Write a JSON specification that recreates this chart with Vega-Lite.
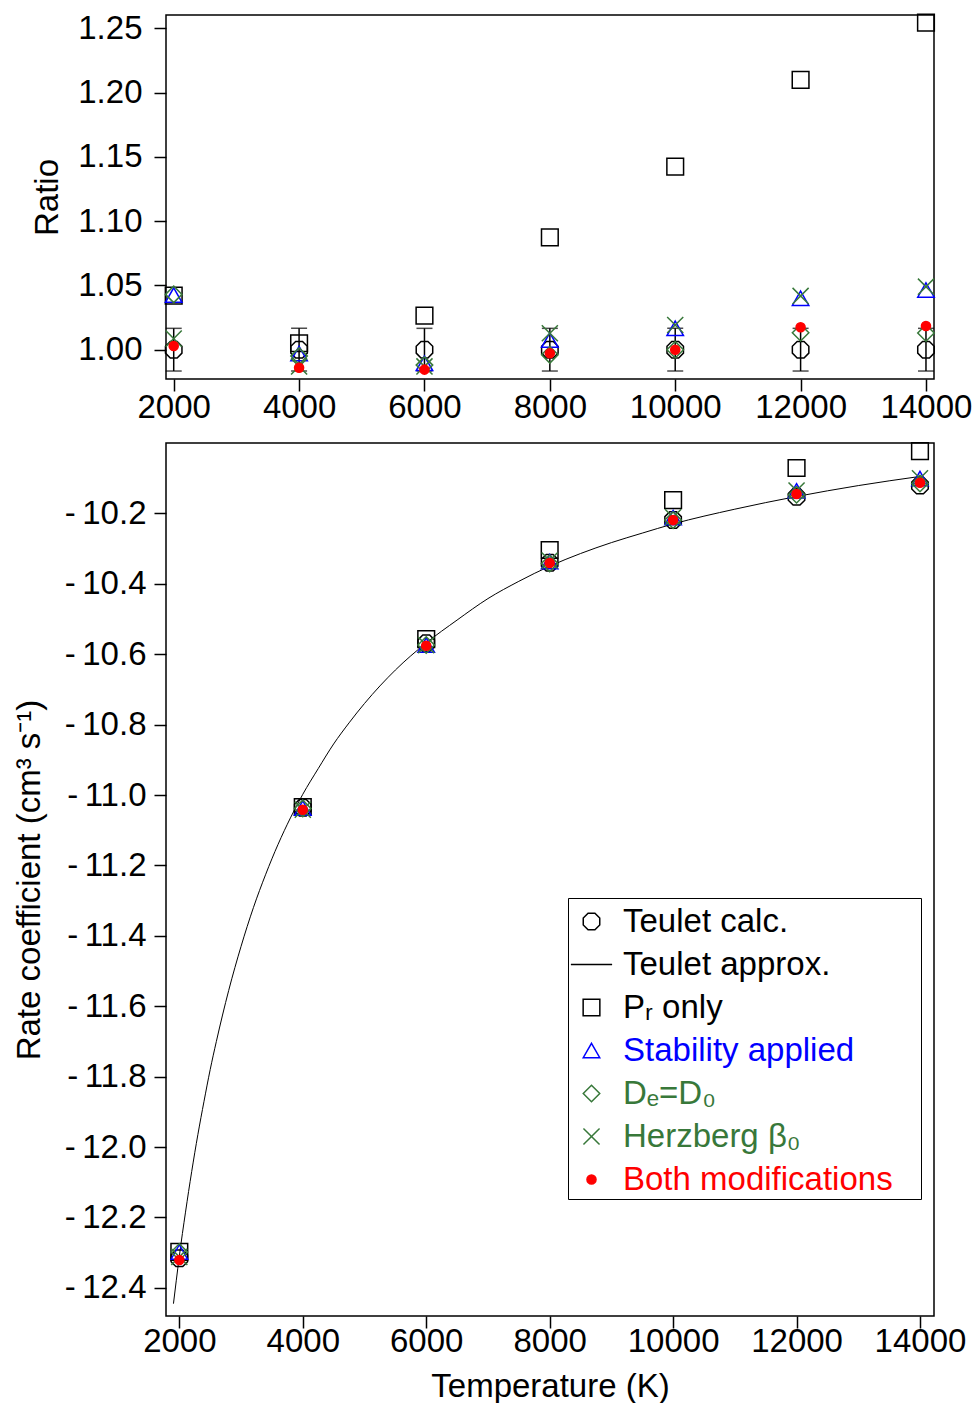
{
  "$schema": "https://vega.github.io/schema/vega-lite/v6.json",
  "background": "white",
  "padding": {"left": 12, "top": 10, "right": 5, "bottom": 3},
  "spacing": 13,
  "config": {
    "font": "Liberation Sans",
    "view": {"stroke": "black", "strokeWidth": 1.5},
    "axis": {
      "grid": false, "domain": false, "tickColor": "black", "tickWidth": 1.5, "tickSize": 12,
      "labelFontSize": 33, "labelColor": "black", "titleFontSize": 33, "titleFontWeight": "normal",
      "titleColor": "black", "labelFont": "Liberation Sans", "titleFont": "Liberation Sans",
      "labelFlush": false, "labelOverlap": false
    }
  },
  "datasets": {
    "ratio": [
      {"T": 2000, "series": "Teulet calc.", "ratio": 1.0}, {"T": 4000, "series": "Teulet calc.", "ratio": 1.0}, {"T": 6000, "series": "Teulet calc.", "ratio": 1.0}, {"T": 8000, "series": "Teulet calc.", "ratio": 1.0}, {"T": 10000, "series": "Teulet calc.", "ratio": 1.0}, {"T": 12000, "series": "Teulet calc.", "ratio": 1.0}, {"T": 14000, "series": "Teulet calc.", "ratio": 1.0},
      {"T": 2000, "series": "Pᵣ only", "ratio": 1.042}, {"T": 4000, "series": "Pᵣ only", "ratio": 1.005}, {"T": 6000, "series": "Pᵣ only", "ratio": 1.0265}, {"T": 8000, "series": "Pᵣ only", "ratio": 1.0874}, {"T": 10000, "series": "Pᵣ only", "ratio": 1.1424}, {"T": 12000, "series": "Pᵣ only", "ratio": 1.2098}, {"T": 14000, "series": "Pᵣ only", "ratio": 1.2544},
      {"T": 2000, "series": "Stability applied", "ratio": 1.0425}, {"T": 4000, "series": "Stability applied", "ratio": 0.997}, {"T": 6000, "series": "Stability applied", "ratio": 0.9894}, {"T": 8000, "series": "Stability applied", "ratio": 1.0075}, {"T": 10000, "series": "Stability applied", "ratio": 1.0166}, {"T": 12000, "series": "Stability applied", "ratio": 1.04}, {"T": 14000, "series": "Stability applied", "ratio": 1.0464},
      {"T": 2000, "series": "Dₑ=D₀", "ratio": 1.043}, {"T": 4000, "series": "Dₑ=D₀", "ratio": 0.995}, {"T": 6000, "series": "Dₑ=D₀", "ratio": 0.988}, {"T": 8000, "series": "Dₑ=D₀", "ratio": 0.996}, {"T": 10000, "series": "Dₑ=D₀", "ratio": 1.0}, {"T": 12000, "series": "Dₑ=D₀", "ratio": 1.0132}, {"T": 14000, "series": "Dₑ=D₀", "ratio": 1.013},
      {"T": 2000, "series": "Herzberg β₀", "ratio": 1.0086}, {"T": 4000, "series": "Herzberg β₀", "ratio": 0.987}, {"T": 6000, "series": "Herzberg β₀", "ratio": 0.987}, {"T": 8000, "series": "Herzberg β₀", "ratio": 1.0128}, {"T": 10000, "series": "Herzberg β₀", "ratio": 1.0192}, {"T": 12000, "series": "Herzberg β₀", "ratio": 1.0418}, {"T": 14000, "series": "Herzberg β₀", "ratio": 1.049},
      {"T": 2000, "series": "Both modifications", "ratio": 1.0029}, {"T": 4000, "series": "Both modifications", "ratio": 0.986}, {"T": 6000, "series": "Both modifications", "ratio": 0.9845}, {"T": 8000, "series": "Both modifications", "ratio": 0.9972}, {"T": 10000, "series": "Both modifications", "ratio": 1.0}, {"T": 12000, "series": "Both modifications", "ratio": 1.0174}, {"T": 14000, "series": "Both modifications", "ratio": 1.0184}
    ],
    "err": [
      {"T": 2000, "lo": 0.9834, "hi": 1.0166}, {"T": 4000, "lo": 0.9834, "hi": 1.0166}, {"T": 6000, "lo": 0.9834, "hi": 1.0166}, {"T": 8000, "lo": 0.9834, "hi": 1.0166}, {"T": 10000, "lo": 0.9834, "hi": 1.0166}, {"T": 12000, "lo": 0.9834, "hi": 1.0166}, {"T": 14000, "lo": 0.9834, "hi": 1.0166}
    ],
    "rate": [
      {"T": 2000, "series": "Teulet calc.", "rate": -12.316}, {"T": 4000, "series": "Teulet calc.", "rate": -11.036}, {"T": 6000, "series": "Teulet calc.", "rate": -10.569}, {"T": 8000, "series": "Teulet calc.", "rate": -10.34}, {"T": 10000, "series": "Teulet calc.", "rate": -10.219}, {"T": 12000, "series": "Teulet calc.", "rate": -10.153}, {"T": 14000, "series": "Teulet calc.", "rate": -10.121},
      {"T": 2000, "series": "Pᵣ only", "rate": -12.298}, {"T": 4000, "series": "Pᵣ only", "rate": -11.034}, {"T": 6000, "series": "Pᵣ only", "rate": -10.557}, {"T": 8000, "series": "Pᵣ only", "rate": -10.304}, {"T": 10000, "series": "Pᵣ only", "rate": -10.162}, {"T": 12000, "series": "Pᵣ only", "rate": -10.071}, {"T": 14000, "series": "Pᵣ only", "rate": -10.023},
      {"T": 2000, "series": "Stability applied", "rate": -12.298}, {"T": 4000, "series": "Stability applied", "rate": -11.037}, {"T": 6000, "series": "Stability applied", "rate": -10.574}, {"T": 8000, "series": "Stability applied", "rate": -10.337}, {"T": 10000, "series": "Stability applied", "rate": -10.212}, {"T": 12000, "series": "Stability applied", "rate": -10.136}, {"T": 14000, "series": "Stability applied", "rate": -10.101},
      {"T": 2000, "series": "Dₑ=D₀", "rate": -12.298}, {"T": 4000, "series": "Dₑ=D₀", "rate": -11.038}, {"T": 6000, "series": "Dₑ=D₀", "rate": -10.574}, {"T": 8000, "series": "Dₑ=D₀", "rate": -10.342}, {"T": 10000, "series": "Dₑ=D₀", "rate": -10.219}, {"T": 12000, "series": "Dₑ=D₀", "rate": -10.147}, {"T": 14000, "series": "Dₑ=D₀", "rate": -10.115},
      {"T": 2000, "series": "Herzberg β₀", "rate": -12.312}, {"T": 4000, "series": "Herzberg β₀", "rate": -11.042}, {"T": 6000, "series": "Herzberg β₀", "rate": -10.574}, {"T": 8000, "series": "Herzberg β₀", "rate": -10.334}, {"T": 10000, "series": "Herzberg β₀", "rate": -10.211}, {"T": 12000, "series": "Herzberg β₀", "rate": -10.135}, {"T": 14000, "series": "Herzberg β₀", "rate": -10.1},
      {"T": 2000, "series": "Both modifications", "rate": -12.321}, {"T": 4000, "series": "Both modifications", "rate": -11.042}, {"T": 6000, "series": "Both modifications", "rate": -10.576}, {"T": 8000, "series": "Both modifications", "rate": -10.341}, {"T": 10000, "series": "Both modifications", "rate": -10.219}, {"T": 12000, "series": "Both modifications", "rate": -10.145}, {"T": 14000, "series": "Both modifications", "rate": -10.113}
    ],
    "curve": [
      {"T": 1905, "approx": -12.445}, {"T": 1950, "approx": -12.38}, {"T": 2000, "approx": -12.31}, {"T": 2100, "approx": -12.185}, {"T": 2200, "approx": -12.07}, {"T": 2300, "approx": -11.965}, {"T": 2400, "approx": -11.87}, {"T": 2500, "approx": -11.78}, {"T": 2600, "approx": -11.7}, {"T": 2800, "approx": -11.555}, {"T": 3000, "approx": -11.43}, {"T": 3200, "approx": -11.32}, {"T": 3400, "approx": -11.225}, {"T": 3600, "approx": -11.14}, {"T": 3800, "approx": -11.065}, {"T": 4000, "approx": -10.998}, {"T": 4250, "approx": -10.925}, {"T": 4500, "approx": -10.855}, {"T": 4750, "approx": -10.795}, {"T": 5000, "approx": -10.74}, {"T": 5500, "approx": -10.645}, {"T": 6000, "approx": -10.568}, {"T": 6500, "approx": -10.503}, {"T": 7000, "approx": -10.442}, {"T": 7500, "approx": -10.393}, {"T": 8000, "approx": -10.35}, {"T": 8500, "approx": -10.314}, {"T": 9000, "approx": -10.283}, {"T": 9500, "approx": -10.256}, {"T": 10000, "approx": -10.23}, {"T": 11000, "approx": -10.188}, {"T": 12000, "approx": -10.152}, {"T": 13000, "approx": -10.121}, {"T": 14000, "approx": -10.095}
    ]
  },
  "resolve": {"scale": {"shape": "independent", "stroke": "independent", "fill": "independent"}},
  "vconcat": [
    {
      "width": 768,
      "height": 364,
      "layer": [
        {
          "data": {"name": "err"},
          "mark": {"type": "errorbar", "ticks": {"size": 16}, "thickness": 1.5, "color": "black"},
          "encoding": {
            "x": {"field": "T", "type": "quantitative", "scale": {"domain": [1877, 14128], "nice": false, "zero": false},
                  "axis": {"title": null, "values": [2000, 4000, 6000, 8000, 10000, 12000, 14000], "format": "d", "labelPadding": 0}},
            "y": {"field": "lo", "type": "quantitative", "scale": {"domain": [0.9772, 1.2603], "nice": false, "zero": false},
                  "axis": {"title": "Ratio", "values": [1.0, 1.05, 1.1, 1.15, 1.2, 1.25], "format": ".2f", "labelPadding": 12, "titlePadding": 13}},
            "y2": {"field": "hi"}
          }
        },
        {
          "data": {"name": "ratio"},
          "mark": {"type": "point", "size": 1700, "strokeWidth": 1.5, "opacity": 1},
          "encoding": {
            "x": {"field": "T", "type": "quantitative"},
            "y": {"field": "ratio", "type": "quantitative"},
            "shape": {"field": "series", "type": "nominal", "legend": null, "scale": {
              "domain": ["Teulet calc.", "Teulet approx.", "Pᵣ only", "Stability applied", "Dₑ=D₀", "Herzberg β₀", "Both modifications"],
              "range": ["M-0.166,-0.4L0.166,-0.4L0.4,-0.166L0.4,0.166L0.166,0.4L-0.166,0.4L-0.4,0.166L-0.4,-0.166Z", "M-1,0L1,0", "M-0.405,-0.405L0.405,-0.405L0.405,0.405L-0.405,0.405Z", "M0,-0.35L0.4,0.35L-0.4,0.35Z", "M0,-0.4L0.4,0L0,0.4L-0.4,0Z", "M-0.39,-0.39L0.39,0.39M0.39,-0.39L-0.39,0.39", "M0.22,0A0.22,0.22 0 1,1 -0.22,0A0.22,0.22 0 1,1 0.22,0Z"]}},
            "stroke": {"field": "series", "type": "nominal", "legend": null, "scale": {
              "domain": ["Teulet calc.", "Teulet approx.", "Pᵣ only", "Stability applied", "Dₑ=D₀", "Herzberg β₀", "Both modifications"],
              "range": ["#000000", "#000000", "#000000", "#0000ff", "#38783a", "#38783a", "#ff0000"]}},
            "fill": {"field": "series", "type": "nominal", "legend": null, "scale": {
              "domain": ["Teulet calc.", "Teulet approx.", "Pᵣ only", "Stability applied", "Dₑ=D₀", "Herzberg β₀", "Both modifications"],
              "range": ["transparent", "transparent", "transparent", "transparent", "transparent", "transparent", "#ff0000"]}}
          }
        }
      ]
    },
    {
      "width": 768,
      "height": 873,
      "layer": [
        {
          "data": {"name": "curve"},
          "mark": {"type": "line", "color": "black", "strokeWidth": 1, "interpolate": "monotone"},
          "encoding": {
            "x": {"field": "T", "type": "quantitative", "scale": {"domain": [1784, 14227], "nice": false, "zero": false},
                  "axis": {"title": "Temperature (K)", "values": [2000, 4000, 6000, 8000, 10000, 12000, 14000], "format": "d", "labelPadding": -3, "titlePadding": 12}},
            "y": {"field": "approx", "type": "quantitative", "scale": {"domain": [-12.48, -10.0], "nice": false, "zero": false},
                  "axis": {"title": "Rate coefficient (cm³ s⁻¹)", "values": [-12.4, -12.2, -12.0, -11.8, -11.6, -11.4, -11.2, -11.0, -10.8, -10.6, -10.4, -10.2], "labelExpr": "'-\u2009' + format(abs(datum.value), '.1f')", "labelPadding": 8, "titlePadding": 18}}
          }
        },
        {
          "data": {"name": "rate"},
          "mark": {"type": "point", "size": 1700, "strokeWidth": 1.5, "opacity": 1},
          "encoding": {
            "x": {"field": "T", "type": "quantitative"},
            "y": {"field": "rate", "type": "quantitative"},
            "shape": {"field": "series", "type": "nominal",
              "legend": {"title": ".", "titleOrient": "right", "titleColor": "transparent", "titleFontSize": 20, "titlePadding": 20, "orient": "none", "legendX": 402, "legendY": 455, "symbolSize": 1700, "symbolStrokeWidth": 1.5, "labelFontSize": 33, "labelFont": "Liberation Sans", "labelOffset": 10, "rowPadding": 4, "padding": 2, "strokeColor": "black", "fillColor": "white", "labelLimit": 600,
                "labelColor": {"expr": "datum.label == 'Stability applied' ? '#0000ff' : (datum.label == 'Both modifications' ? '#ff0000' : ((datum.label == 'Dₑ=D₀' || datum.label == 'Herzberg β₀') ? '#38783a' : '#000000'))"}},
              "scale": {
              "domain": ["Teulet calc.", "Teulet approx.", "Pᵣ only", "Stability applied", "Dₑ=D₀", "Herzberg β₀", "Both modifications"],
              "range": ["M-0.166,-0.4L0.166,-0.4L0.4,-0.166L0.4,0.166L0.166,0.4L-0.166,0.4L-0.4,0.166L-0.4,-0.166Z", "M-1,0L1,0", "M-0.405,-0.405L0.405,-0.405L0.405,0.405L-0.405,0.405Z", "M0,-0.35L0.4,0.35L-0.4,0.35Z", "M0,-0.4L0.4,0L0,0.4L-0.4,0Z", "M-0.39,-0.39L0.39,0.39M0.39,-0.39L-0.39,0.39", "M0.22,0A0.22,0.22 0 1,1 -0.22,0A0.22,0.22 0 1,1 0.22,0Z"]}},
            "stroke": {"field": "series", "type": "nominal",
              "legend": {"title": ".", "titleOrient": "right", "titleColor": "transparent", "titleFontSize": 20, "titlePadding": 20, "orient": "none", "legendX": 402, "legendY": 455, "symbolSize": 1700, "symbolStrokeWidth": 1.5, "labelFontSize": 33, "labelFont": "Liberation Sans", "labelOffset": 10, "rowPadding": 4, "padding": 2, "strokeColor": "black", "fillColor": "white", "labelLimit": 600,
                "labelColor": {"expr": "datum.label == 'Stability applied' ? '#0000ff' : (datum.label == 'Both modifications' ? '#ff0000' : ((datum.label == 'Dₑ=D₀' || datum.label == 'Herzberg β₀') ? '#38783a' : '#000000'))"}},
              "scale": {
              "domain": ["Teulet calc.", "Teulet approx.", "Pᵣ only", "Stability applied", "Dₑ=D₀", "Herzberg β₀", "Both modifications"],
              "range": ["#000000", "#000000", "#000000", "#0000ff", "#38783a", "#38783a", "#ff0000"]}},
            "fill": {"field": "series", "type": "nominal",
              "legend": {"title": ".", "titleOrient": "right", "titleColor": "transparent", "titleFontSize": 20, "titlePadding": 20, "orient": "none", "legendX": 402, "legendY": 455, "symbolSize": 1700, "symbolStrokeWidth": 1.5, "labelFontSize": 33, "labelFont": "Liberation Sans", "labelOffset": 10, "rowPadding": 4, "padding": 2, "strokeColor": "black", "fillColor": "white", "labelLimit": 600,
                "labelColor": {"expr": "datum.label == 'Stability applied' ? '#0000ff' : (datum.label == 'Both modifications' ? '#ff0000' : ((datum.label == 'Dₑ=D₀' || datum.label == 'Herzberg β₀') ? '#38783a' : '#000000'))"}},
              "scale": {
              "domain": ["Teulet calc.", "Teulet approx.", "Pᵣ only", "Stability applied", "Dₑ=D₀", "Herzberg β₀", "Both modifications"],
              "range": ["transparent", "transparent", "transparent", "transparent", "transparent", "transparent", "#ff0000"]}}
          }
        }
      ]
    }
  ]
}
